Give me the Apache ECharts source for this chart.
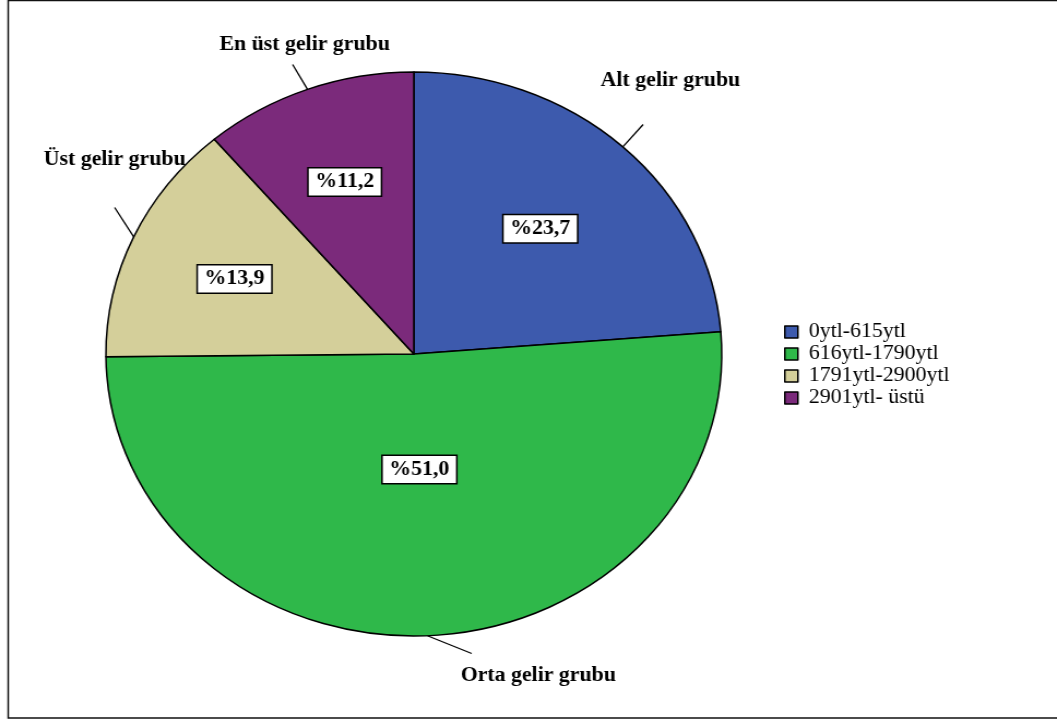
<!DOCTYPE html>
<html>
<head>
<meta charset="utf-8">
<script src="https://cdn.jsdelivr.net/npm/echarts@6/dist/echarts.min.js"></script>
<style>
  html, body { margin: 0; padding: 0; background: #fff; }
  /* the source picture is stretched wider than tall, so the whole chart is scaled in x */
  #wrap { width: 968px; height: 721px; transform: scaleX(1.0919); transform-origin: 0 0; }
  #chart { width: 968px; height: 721px; }
</style>
</head>
<body>
<div id="wrap"><div id="chart"></div></div>
<script>
// data
var categories = ['0ytl-615ytl', '616ytl-1790ytl', '1791ytl-2900ytl', '2901ytl- üstü'];
var groupNames = ['Alt gelir grubu', 'Orta gelir grubu', 'Üst gelir grubu', 'En üst gelir grubu'];
var percents = [23.7, 51.0, 13.9, 11.2];

var colors = ['#3d5aad', '#2fb84a', '#d4cf9a', '#7b2a7b'];
var CX = 379, CY = 354, R = 282;
// how far out (fraction of radius) each percent box sits
var insideFrac = [0.605, 0.41, 0.64, 0.65];
// where the group names sit
var namePos = [[614, 81], [493, 676], [105, 160], [279, 45]];
// outer end of each leader line
var leaderEnd = [[589, 124], [432, 654], [105, 207], [268, 64]];

var chart = echarts.init(document.getElementById('chart'));

var pieData = categories.map(function (c, i) {
  return { name: c, value: percents[i], itemStyle: { color: colors[i] } };
});
var ghostData = categories.map(function (c, i) {
  return { name: c, value: percents[i] };
});

function fmtPct(v) {
  return '%' + v.toFixed(1).replace('.', ',');
}

chart.setOption({
  animation: false,
  backgroundColor: '#fff',
  graphic: [{
    type: 'rect',
    shape: { x: 7.5, y: 0.5, width: 1000, height: 717.5 },
    style: { fill: 'none', stroke: '#111', lineWidth: 1.5 },
    silent: true
  }],
  legend: {
    orient: 'vertical',
    left: 713,
    top: 317,
    itemWidth: 12,
    itemHeight: 12,
    itemGap: 2,
    icon: 'rect',
    selectedMode: false,
    textStyle: {
      fontFamily: 'Liberation Serif',
      fontSize: 20,
      lineHeight: 20,
      color: '#000',
      padding: [0, 0, 0, 5]
    },
    data: categories.map(function (c, i) {
      return { name: c, itemStyle: { color: colors[i], borderColor: '#000', borderWidth: 1.5, opacity: 1 } };
    })
  },
  series: [
    {
      // visible pie + short leader lines (tiny hidden label pulls each line)
      type: 'pie',
      center: [CX, CY],
      radius: R,
      startAngle: 90,
      clockwise: true,
      avoidLabelOverlap: false,
      silent: true,
      itemStyle: { borderColor: '#000', borderWidth: 1.5 },
      label: {
        show: true,
        position: 'outside',
        formatter: '.',
        fontSize: 1,
        color: 'rgba(0,0,0,0)'
      },
      labelLine: {
        show: true,
        length: 30,
        length2: 0,
        lineStyle: { color: '#000', width: 1.3 }
      },
      labelLayout: function (p) {
        var e = leaderEnd[p.dataIndex];
        return { x: e[0], y: e[1], align: 'center', verticalAlign: 'middle' };
      },
      data: pieData
    },
    {
      // percent boxes
      type: 'pie',
      center: [CX, CY],
      radius: R,
      startAngle: 90,
      silent: true,
      z: 5,
      itemStyle: { color: 'rgba(0,0,0,0)', borderWidth: 0 },
      label: {
        show: true,
        position: 'inside',
        formatter: function (p) { return fmtPct(p.value); },
        fontFamily: 'Liberation Serif',
        fontWeight: 'bold',
        fontSize: 20,
        color: '#000',
        backgroundColor: '#fff',
        borderColor: '#000',
        borderWidth: 1.5,
        padding: [4, 6, 3, 6]
      },
      labelLine: { show: false },
      labelLayout: function (p) {
        var r = p.labelRect;
        var dx = r.x + r.width / 2 - CX;
        var dy = r.y + r.height / 2 - CY;
        var len = Math.sqrt(dx * dx + dy * dy) || 1;
        var f = insideFrac[p.dataIndex] * R / len;
        return { x: CX + dx * f, y: CY + dy * f, align: 'center', verticalAlign: 'middle' };
      },
      data: ghostData
    },
    {
      // group names
      type: 'pie',
      center: [CX, CY],
      radius: R,
      startAngle: 90,
      silent: true,
      z: 5,
      avoidLabelOverlap: false,
      itemStyle: { color: 'rgba(0,0,0,0)', borderWidth: 0 },
      label: {
        show: true,
        position: 'outside',
        formatter: function (p) { return groupNames[p.dataIndex]; },
        fontFamily: 'Liberation Serif',
        fontWeight: 'bold',
        fontSize: 20,
        color: '#000'
      },
      labelLine: { show: false },
      labelLayout: function (p) {
        var pos = namePos[p.dataIndex];
        return { x: pos[0], y: pos[1], align: 'center', verticalAlign: 'middle' };
      },
      data: ghostData
    }
  ]
});
</script>
</body>
</html>
